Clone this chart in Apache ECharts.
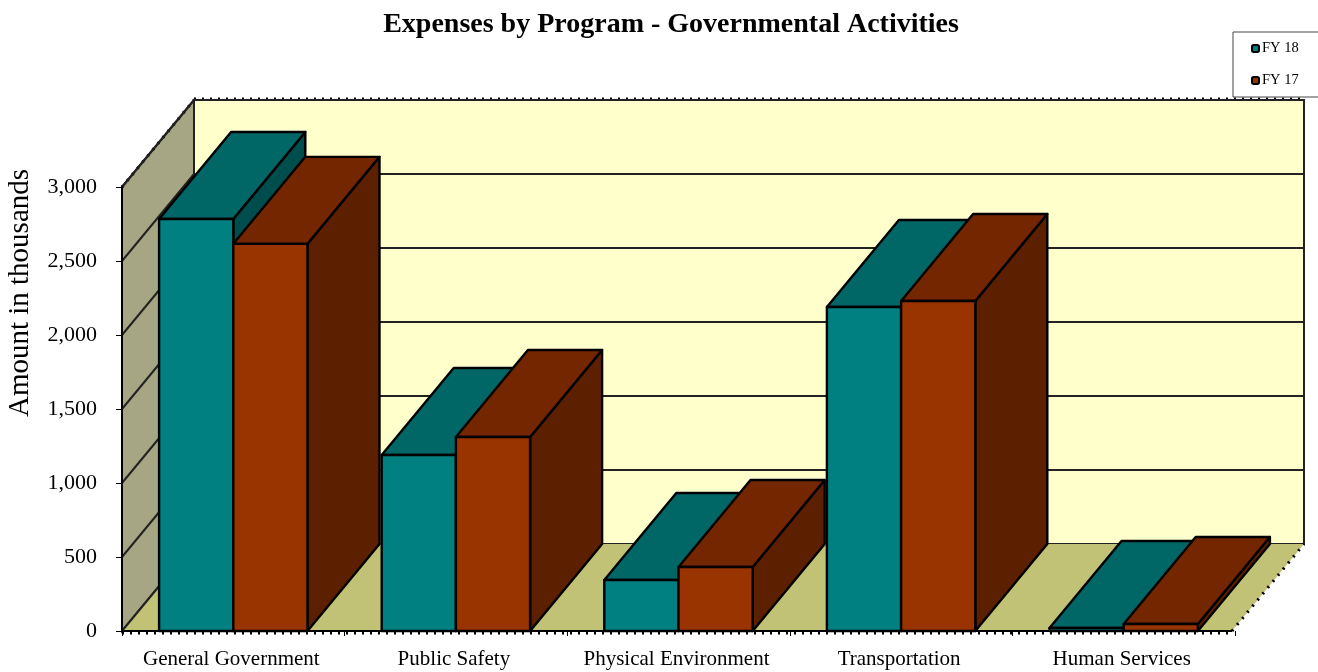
<!DOCTYPE html>
<html>
<head>
<meta charset="utf-8">
<title>Expenses by Program</title>
<script src="https://cdn.jsdelivr.net/npm/echarts@6/dist/echarts.min.js"></script>
<style>
html,body{margin:0;padding:0;background:#fff}
#chart{width:1318px;height:672px}
</style>
</head>
<body>
<div id="chart"></div>
<script>
var categories = ['General Government','Public Safety','Physical Environment','Transportation','Human Services'];
var fy18 = [2784,1189,345,2189,20];
var fy17 = [2616,1311,432,2230,47];
var yTicks = [0,500,1000,1500,2000,2500,3000];

var font = '"Liberation Serif","Times New Roman",serif';
var depthX = 72, depthY = -87;   // 3d offset of the back wall
var wallInset = 3;               // floor stops a little short of the last band

function toRows(values){
    return values.map(function(v,i){ return [i,v]; });
}
function face(points,fill){
    return {type:'polygon',shape:{points:points},style:{fill:fill,stroke:'#000',lineWidth:2.4,lineJoin:'round'}};
}
function seg(x1,y1,x2,y2,style){
    return {type:'line',shape:{x1:x1,y1:y1,x2:x2,y2:y2},style:style};
}

// floor and the two walls
function renderWalls(params,api){
    var r = params.coordSys, l = r.x, t = r.y, b = r.y+r.height, e = r.x+r.width-wallInset;
    var dots = {stroke:'#000',lineWidth:3,lineDash:[2,6]};
    return {type:'group',children:[
        {type:'polygon',shape:{points:[[l+depthX,t+depthY],[e+depthX,t+depthY],[e+depthX,b+depthY],[l+depthX,b+depthY]]},style:{fill:'#ffffcc',stroke:'#222',lineWidth:2}},
        {type:'polygon',shape:{points:[[l,t],[l+depthX,t+depthY],[l+depthX,b+depthY],[l,b]]},style:{fill:'#a6a684',stroke:'#222',lineWidth:2}},
        {type:'polygon',shape:{points:[[l,b],[l+depthX,b+depthY],[e+depthX,b+depthY],[e,b]]},style:{fill:'#c2c276',stroke:'none'}},
        seg(l,b,e,b,{stroke:'#000',lineWidth:2}),
        seg(l+depthX,t+depthY-1,e+depthX,t+depthY-1,dots),
        seg(l,b+2,e,b+2,dots),
        seg(e,b,e+depthX,b+depthY,dots),
        seg(l,t,l+depthX,t+depthY,dots)
    ]};
}
// grid lines run across the side wall and the back wall
function renderGridLine(params,api){
    var p = api.coord([0,api.value(0)]), r = params.coordSys;
    var x = r.x, y = p[1], s = {stroke:'#222',lineWidth:2};
    if(api.value(0)===0){
        return seg(x,y,x+depthX,y+depthY,s);
    }
    return {type:'group',children:[
        seg(x,y,x+depthX,y+depthY,s),
        seg(x+depthX,y+depthY,x+r.width-wallInset+depthX,y+depthY,s)
    ]};
}
function barRenderer(offset,front,top,side){
    return function(params,api){
        var c = api.coord([api.value(0),api.value(1)]);
        var base = api.coord([api.value(0),0]);
        var w = api.size([1,0])[0]/3;
        var x0 = c[0]+offset*w, x1 = x0+w, y = c[1], b = base[1];
        return {type:'group',children:[
            face([[x1,b],[x1+depthX,b+depthY],[x1+depthX,y+depthY],[x1,y]],side),
            face([[x0,y],[x1,y],[x1+depthX,y+depthY],[x0+depthX,y+depthY]],top),
            face([[x0,b],[x1,b],[x1,y],[x0,y]],front)
        ]};
    };
}

var myChart = echarts.init(document.getElementById('chart'));
var option = {
    animation:false,
    title:{
        text:'Expenses by Program - Governmental Activities',
        left:666,top:6,textAlign:'center',
        textStyle:{fontFamily:font,fontWeight:'bold',fontSize:28,color:'#000'}
    },
    legend:{
        data:['FY 18','FY 17'],
        orient:'vertical',left:1233,top:32,
        padding:[9,60,9,18],
        itemGap:17,itemWidth:7,itemHeight:7,
        backgroundColor:'#fff',borderColor:'#444',borderWidth:1,
        textStyle:{fontFamily:font,fontSize:14.5,color:'#000',padding:[0,0,0,-2]},
        z:10
    },
    grid:{left:122,top:187,width:1113,height:444,outerBoundsMode:'none'},
    xAxis:{
        type:'category',data:categories,z:3,
        axisLine:{show:false},
        axisTick:{show:true,length:5,lineStyle:{color:'#000'}},
        axisLabel:{fontFamily:font,fontSize:21,color:'#000',margin:18,interval:0,padding:[0,4,0,0]},
        splitLine:{show:false}
    },
    yAxis:{
        type:'value',min:0,max:3000,interval:500,z:3,
        name:'Amount in thousands',nameLocation:'middle',nameGap:87,
        nameTextStyle:{fontFamily:font,fontSize:29,color:'#000',padding:[0,0,0,232]},
        axisLine:{show:true,lineStyle:{color:'#000',width:2}},
        axisTick:{show:true,length:6,lineStyle:{color:'#000',width:1}},
        axisLabel:{fontFamily:font,fontSize:22,color:'#000',margin:25,padding:[3,0,0,0],
            formatter:function(v){ return v.toLocaleString('en-US'); }},
        splitLine:{show:false}
    },
    series:[
        {name:'walls',type:'custom',silent:true,renderItem:renderWalls,data:[[0]],encode:{y:0}},
        {name:'grid',type:'custom',silent:true,renderItem:renderGridLine,data:yTicks.map(function(v){return [v];}),encode:{y:0}},
        {name:'FY 18',type:'custom',renderItem:barRenderer(-1,'#008080','#006666','#004d4d'),
            itemStyle:{color:'#008080',borderColor:'#000',borderWidth:2},encode:{x:0,y:1},data:toRows(fy18)},
        {name:'FY 17',type:'custom',renderItem:barRenderer(0,'#993300','#732600','#5c1f00'),
            itemStyle:{color:'#993300',borderColor:'#000',borderWidth:2},encode:{x:0,y:1},data:toRows(fy17)}
    ]
};
myChart.setOption(option,true);
</script>
</body>
</html>
